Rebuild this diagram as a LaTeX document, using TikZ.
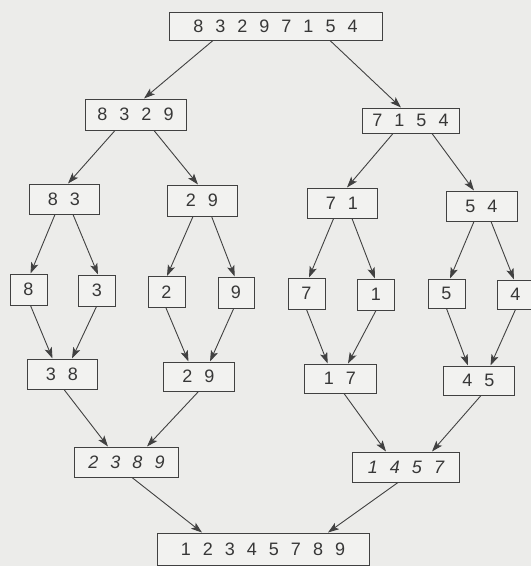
\documentclass[tikz,border=0pt]{standalone}
\usepackage{fontspec}
\setmainfont{Liberation Sans}
\usetikzlibrary{arrows.meta}
\definecolor{bgcol}{RGB}{236,236,234}
\definecolor{boxfill}{RGB}{242,242,240}
\definecolor{inkcol}{RGB}{65,65,65}
\definecolor{txtcol}{RGB}{55,55,55}
\tikzset{
  arr/.style={draw=inkcol, line width=0.9pt, -{Stealth[length=11pt,width=7.5pt,inset=2.5pt]}},
  numbox/.style={draw=inkcol, fill=boxfill, line width=1pt, inner sep=0pt, anchor=center,
    text=txtcol, font={\fontsize{18}{21}\selectfont\spaceskip=12pt\relax}},
  itbox/.style={numbox, font={\fontsize{18}{21}\selectfont\itshape\spaceskip=12pt\relax}}
}
\begin{document}
\begin{tikzpicture}[x=1pt,y=-1pt]
\fill[bgcol] (0,0) rectangle (531,566);
\useasboundingbox (0,0) rectangle (531,566);
% level 0
\node[numbox, minimum width=213, minimum height=28] (top) at (275.5,26) {8 3 2 9 7 1 5 4};
% level 1
\node[numbox, minimum width=101, minimum height=31] (a) at (135.5,114.5) {8 3 2 9};
\node[numbox, minimum width=97, minimum height=25] (b) at (410.5,120.5) {7 1 5 4};
% level 2
\node[numbox, minimum width=70, minimum height=30] (c1) at (64,199) {8 3};
\node[numbox, minimum width=70, minimum height=31] (c2) at (202,200.5) {2 9};
\node[numbox, minimum width=70, minimum height=30] (c3) at (342,203) {7 1};
\node[numbox, minimum width=71, minimum height=30] (c4) at (481.5,206) {5 4};
% level 3
\node[numbox, minimum width=37, minimum height=31] (d1) at (28.5,289.5) {8};
\node[numbox, minimum width=37, minimum height=31] (d2) at (97,290.5) {3};
\node[numbox, minimum width=37, minimum height=31] (d3) at (166.5,292) {2};
\node[numbox, minimum width=36, minimum height=31] (d4) at (236,292.5) {9};
\node[numbox, minimum width=37, minimum height=31] (d5) at (306.5,293.5) {7};
\node[numbox, minimum width=37, minimum height=31] (d6) at (376,294.5) {1};
\node[numbox, minimum width=37, minimum height=29] (d7) at (446.5,293.5) {5};
\node[numbox, minimum width=37, minimum height=29] (d8) at (515.5,294.5) {4};
% level 4
\node[numbox, minimum width=70, minimum height=30] (e1) at (62,374) {3 8};
\node[numbox, minimum width=71, minimum height=29] (e2) at (198.5,376.5) {2 9};
\node[numbox, minimum width=72, minimum height=29] (e3) at (340,378.5) {1 7};
\node[numbox, minimum width=71, minimum height=29] (e4) at (478.5,380.5) {4 5};
% level 5
\node[itbox, minimum width=104, minimum height=30] (f1) at (126.5,462) {2 3 8 9};
\node[itbox, minimum width=107, minimum height=30] (f2) at (406,467) {1 4 5 7};
% level 6
\node[numbox, minimum width=212, minimum height=32] (g) at (263,549) {1 2 3 4 5 7 8 9};
% connectors
\draw[arr] ([xshift=-62.5]top.south) -- ([xshift=8.5]a.north);
\draw[arr] ([xshift=54.5]top.south) -- ([xshift=-9.5]b.north);
\draw[arr] ([xshift=-20.5]a.south) -- ([xshift=4]c1.north);
\draw[arr] ([xshift=18.5]a.south) -- ([xshift=-4]c2.north);
\draw[arr] ([xshift=-17.5]b.south) -- ([xshift=5]c3.north);
\draw[arr] ([xshift=21.5]b.south) -- ([xshift=-7.5]c4.north);
\draw[arr] ([xshift=-9]c1.south) -- ([xshift=2]d1.north);
\draw[arr] ([xshift=9]c1.south) -- ([xshift=1]d2.north);
\draw[arr] ([xshift=-9]c2.south) -- ([xshift=0.5]d3.north);
\draw[arr] ([xshift=9.6]c2.south) -- ([xshift=-1.3]d4.north);
\draw[arr] ([xshift=-8.4]c3.south) -- ([xshift=2.5]d5.north);
\draw[arr] ([xshift=10]c3.south) -- ([xshift=-1]d6.north);
\draw[arr] ([xshift=-7.5]c4.south) -- ([xshift=3.5]d7.north);
\draw[arr] ([xshift=9.5]c4.south) -- ([xshift=-1.5]d8.north);
\draw[arr] ([xshift=2]d1.south) -- ([xshift=-9.5]e1.north);
\draw[arr] ([xshift=-0.5]d2.south) -- ([xshift=10]e1.north);
\draw[arr] ([xshift=-0.5]d3.south) -- ([xshift=-10]e2.north);
\draw[arr] ([xshift=-2.3]d4.south) -- ([xshift=11.5]e2.north);
\draw[arr] (d5.south) -- ([xshift=-12.3]e3.north);
\draw[arr] (d6.south) -- ([xshift=8]e3.north);
\draw[arr] (d7.south) -- ([xshift=-10.5]e4.north);
\draw[arr] (d8.south) -- ([xshift=12]e4.north);
\draw[arr] ([xshift=2]e1.south) -- ([xshift=-18.5]f1.north);
\draw[arr] (e2.south) -- ([xshift=20.5]f1.north);
\draw[arr] ([xshift=4]e3.south) -- ([xshift=-20]f2.north);
\draw[arr] ([xshift=2.5]e4.south) -- ([xshift=26]f2.north);
\draw[arr] ([xshift=5.5]f1.south) -- ([xshift=-61]g.north);
\draw[arr] ([xshift=-8]f2.south) -- ([xshift=65]g.north);
\end{tikzpicture}
\end{document}
